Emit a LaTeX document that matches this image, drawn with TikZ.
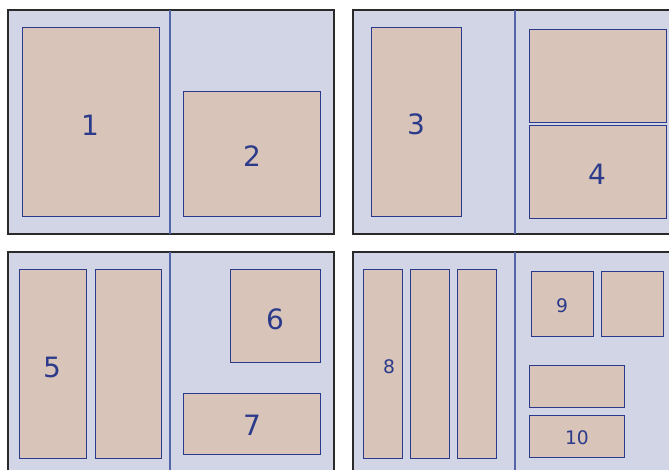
\documentclass[tikz,border=0pt]{standalone}
\usepackage{fontspec}
\setmainfont{DejaVu Sans}
\definecolor{panelfill}{HTML}{D2D5E6}
\definecolor{boxfill}{HTML}{D8C4B8}
\definecolor{boxline}{HTML}{2B3A8A}
\definecolor{divline}{HTML}{5566A8}
\definecolor{panelline}{HTML}{2A2A2A}
\tikzset{
  panel/.style={fill=panelfill,draw=panelline,line width=0.9pt},
  divider/.style={draw=divline,line width=0.9pt},
  box/.style={fill=boxfill,draw=boxline,line width=0.75pt},
  biglabel/.style={text=boxline,font=\fontsize{21}{25}\selectfont,inner sep=0pt},
  smalllabel/.style={text=boxline,font=\fontsize{14}{17}\selectfont,inner sep=0pt}
}
\begin{document}
\begin{tikzpicture}[x=0.75pt,y=-0.75pt]
\useasboundingbox (0,0) rectangle (669,470);
\clip (0,0) rectangle (669,470);
\fill[white] (0,0) rectangle (669,470);
% panel 1
\draw[panel] (8,10) rectangle (334,234);
\draw[divider] (170,10) -- (170,234);
\draw[box] (22,28) rectangle (159,217);
\draw[box] (183,92) rectangle (320,217);
\node[biglabel] (l1) at (90,125) {1};
\node[biglabel] (l2) at (252,156) {2};
% panel 2
\draw[panel] (353,10) rectangle (700,234);
\draw[divider] (515,10) -- (515,234);
\draw[box] (371,28) rectangle (461,217);
\draw[box] (529,30) rectangle (666,123);
\draw[box] (529,126) rectangle (666,219);
\node[biglabel] (l3) at (416,124) {3};
\node[biglabel] (l4) at (597,174) {4};
% panel 3
\draw[panel] (8,252) rectangle (334,500);
\draw[divider] (170,252) -- (170,500);
\draw[box] (19,270) rectangle (86,459);
\draw[box] (95,270) rectangle (161,459);
\draw[box] (230,270) rectangle (320,363);
\draw[box] (183,394) rectangle (320,455);
\node[biglabel] (l5) at (52,367) {5};
\node[biglabel] (l6) at (275,319) {6};
\node[biglabel] (l7) at (252,425) {7};
% panel 4
\draw[panel] (353,252) rectangle (700,500);
\draw[divider] (515,252) -- (515,500);
\draw[box] (363,270) rectangle (402,459);
\draw[box] (410,270) rectangle (449,459);
\draw[box] (457,270) rectangle (496,459);
\draw[box] (531,272) rectangle (593,337);
\draw[box] (601,272) rectangle (663,337);
\draw[box] (529,366) rectangle (624,408);
\draw[box] (529,416) rectangle (624,458);
\node[smalllabel] (l8) at (389,367) {8};
\node[smalllabel] (l9) at (562,306) {9};
\node[smalllabel] (l10) at (577,438) {10};
\end{tikzpicture}
\end{document}
